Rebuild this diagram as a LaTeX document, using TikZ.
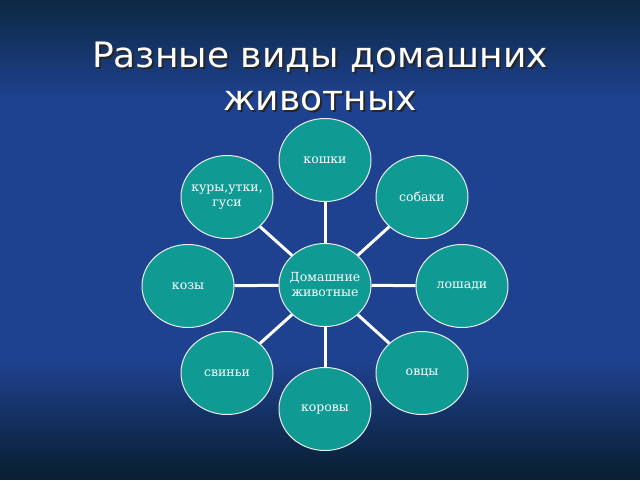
\documentclass[tikz,border=0pt]{standalone}
\usepackage{fontspec}
\setmainfont{DejaVu Serif}
\newfontfamily\titlefont{DejaVu Sans}
\usetikzlibrary{shapes.geometric}
\pgfdeclarelayer{bg}
\pgfdeclarelayer{links}
\pgfsetlayers{bg,links,main}
\definecolor{bgblue}{HTML}{1F4290}
\definecolor{bgdark}{HTML}{0C2844}
\definecolor{bgbot}{HTML}{0A2036}
\definecolor{tealc}{HTML}{0F9A93}
\tikzset{
  animal/.style={ellipse, draw=white!85!gray, line width=1pt, fill=tealc,
    minimum width=92pt, minimum height=83pt, inner sep=-14pt,
    text=white, font=\fontsize{12.5}{15}\selectfont, align=center},
  link/.style={draw=white, line width=3pt},
  titletext/.style={font=\titlefont\fontsize{35}{42}\selectfont, anchor=base, xscale=1.03}
}
\begin{document}
\begin{tikzpicture}[x=1pt,y=-1pt]
\useasboundingbox (0,0) rectangle (640,480);
\begin{pgfonlayer}{bg}
\fill[bgblue] (0,0) rectangle (640,480);
\shade[top color=bgdark, bottom color=bgblue] (0,0) rectangle (640,100);
\shade[top color=bgblue, bottom color=bgbot] (0,360) rectangle (640,470);
\fill[bgbot] (0,469) rectangle (640,480);
\end{pgfonlayer}
\node[titletext, text=black!85] (t1s) at (322,69) {Разные виды домашних};
\node[titletext, text=black!85] (t2s) at (322,112) {животных};
\node[titletext, text=white] (t1) at (320,67) {Разные виды домашних};
\node[titletext, text=white] (t2) at (320,110) {животных};
\node[animal] (c) at (325,285) {Домашние\\животные};
\node[animal] (n) at (325,160) {кошки};
\node[animal] (nw) at (227,197) {куры,утки,\\гуси};
\node[animal] (ne) at (422,197) {собаки};
\node[animal] (w) at (188,286) {козы};
\node[animal] (e) at (462,286) {лошади};
\node[animal] (sw) at (227,373) {свиньи};
\node[animal] (se) at (422,373) {овцы};
\node[animal] (s) at (325,409) {коровы};
\begin{pgfonlayer}{links}
\foreach \t in {n,nw,ne,w,e,sw,se,s} \draw[link] (c) -- (\t);
\end{pgfonlayer}
\end{tikzpicture}
\end{document}
